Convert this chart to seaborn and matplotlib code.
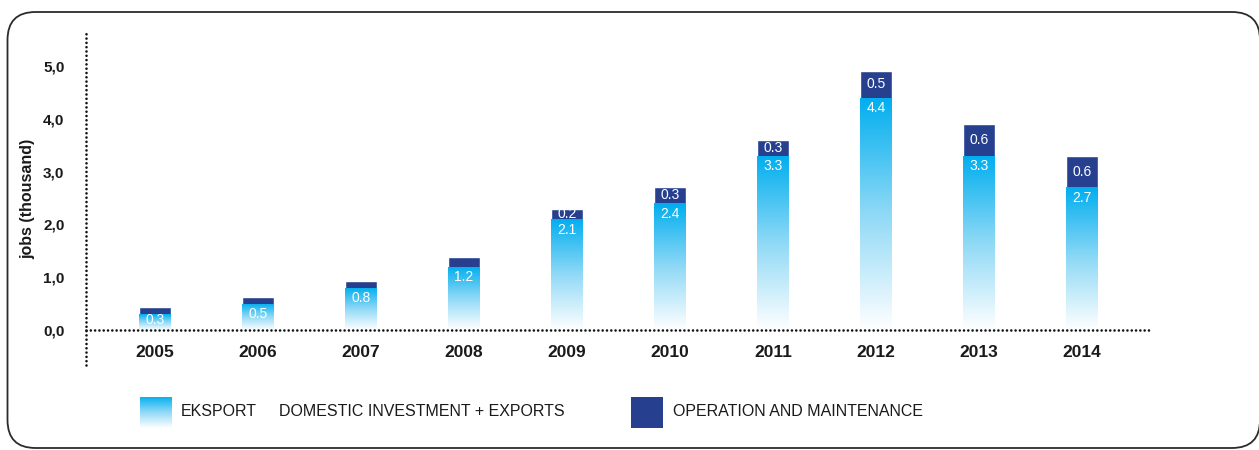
import numpy as np
import matplotlib
matplotlib.use("Agg")
import matplotlib.pyplot as plt
import seaborn as sns
from matplotlib.patches import FancyBboxPatch, Rectangle
from matplotlib.colors import LinearSegmentedColormap

# --- data (thousand jobs) ---
years = ["2005", "2006", "2007", "2008", "2009", "2010", "2011", "2012", "2013", "2014"]
domestic_exports = [0.3, 0.5, 0.8, 1.2, 2.1, 2.4, 3.3, 4.4, 3.3, 2.7]
operation_maint = [0.13, 0.13, 0.13, 0.18, 0.2, 0.3, 0.3, 0.5, 0.6, 0.6]
y_ticks = [0, 1, 2, 3, 4, 5]
y_tick_labels = ["0,0", "1,0", "2,0", "3,0", "4,0", "5,0"]
legend_labels = ["EKSPORT", "DOMESTIC INVESTMENT + EXPORTS", "OPERATION AND MAINTENANCE"]

CYAN = "#00AEEF"
NAVY = "#26408F"
TEXT = "#1a1a1a"

sns.set_theme(style="white")
plt.rcParams["font.family"] = ["Liberation Sans", "DejaVu Sans"]

W, H, DPI = 1259, 450, 100
fig = plt.figure(figsize=(W / DPI, H / DPI), dpi=DPI)

# rounded frame around the whole chart (inches, so the corners stay circular)
frame = FancyBboxPatch((0.075, 0.02), 12.60 - 0.075, 4.38 - 0.02,
                       boxstyle="round,pad=0,rounding_size=0.28",
                       transform=fig.dpi_scale_trans, facecolor="none",
                       edgecolor="#2b2b2b", linewidth=1.3, zorder=-10)
fig.patches.append(frame)

ax = fig.add_axes([86 / W, 85 / H, (1150 - 86) / W, (418 - 85) / H])
ax.set_facecolor("none")

totals = [d + o for d, o in zip(domestic_exports, operation_maint)]
bar_w = 0.31

# stacked bars: full height in navy, domestic part drawn over it
sns.barplot(x=years, y=totals, color=NAVY, saturation=1, width=bar_w, ax=ax)
n_before = len(ax.patches)
sns.barplot(x=years, y=domestic_exports, color=CYAN, saturation=1, width=bar_w, ax=ax)
blue_bars = ax.patches[n_before:]

# vertical white-to-cyan gradient inside each domestic bar
grad_cmap = LinearSegmentedColormap.from_list("cyanfade", ["#FFFFFF", "#8FD9F6", CYAN])
grad = np.linspace(0, 1, 256).reshape(-1, 1)
for p in blue_bars:
    x0, y0 = p.get_x(), p.get_y()
    w, h = p.get_width(), p.get_height()
    im = ax.imshow(grad, cmap=grad_cmap, origin="lower", aspect="auto",
                   extent=(x0, x0 + w, y0, y0 + h), zorder=p.get_zorder() + 0.1,
                   interpolation="bicubic")
    im.set_clip_path(p)
    p.set_facecolor("none")
    p.set_edgecolor("none")
ax.set_xlim(-0.67, 9.66)
ax.set_ylim(-0.66, 5.64)

# value labels
for i, (d, o) in enumerate(zip(domestic_exports, operation_maint)):
    ax.text(i, max(d - 0.2, 0.2), f"{d:.1f}", ha="center", va="center",
            color="white", fontsize=10, zorder=5)
    if o >= 0.2:
        ax.text(i, d + o / 2, f"{o:.1f}", ha="center", va="center",
                color="white", fontsize=10, zorder=5)

# dotted axes
for side in ("top", "right"):
    ax.spines[side].set_visible(False)
ax.spines["bottom"].set_position(("data", 0))
for side in ("left", "bottom"):
    sp = ax.spines[side]
    sp.set_color("#111111")
    sp.set_linewidth(1.9)
    sp.set_linestyle((0, (0.01, 1.62)))
    sp.set_capstyle("round")

ax.set_yticks(y_ticks)
ax.set_yticklabels(y_tick_labels, fontsize=11, fontweight="bold", color=TEXT)
ax.tick_params(axis="y", length=0, pad=15.5)
ax.tick_params(axis="x", length=0, pad=11, labelsize=12.5, labelcolor=TEXT)
for t in ax.get_xticklabels():
    t.set_fontweight("bold")
ax.set_xlabel("")
ax.set_ylabel("jobs (thousand)", fontsize=11.5, fontweight="bold", color=TEXT, labelpad=6)

# legend
lg = fig.add_axes([140 / W, 22 / H, 32 / W, 31 / H])
lg.imshow(grad, cmap=grad_cmap, origin="lower", aspect="auto", interpolation="bicubic")
lg.set_axis_off()
fig.patches.append(Rectangle((631 / W, 22 / H), 32 / W, 31 / H, transform=fig.transFigure,
                             facecolor=NAVY, edgecolor="none", zorder=3))
ty = 39 / H
fig.text(181 / W, ty, legend_labels[0], fontsize=11.5, color=TEXT, va="center")
fig.text(279 / W, ty, legend_labels[1], fontsize=11.5, color=TEXT, va="center")
fig.text(673 / W, ty, legend_labels[2], fontsize=11.5, color=TEXT, va="center")

fig.savefig("out.png", dpi=DPI)
